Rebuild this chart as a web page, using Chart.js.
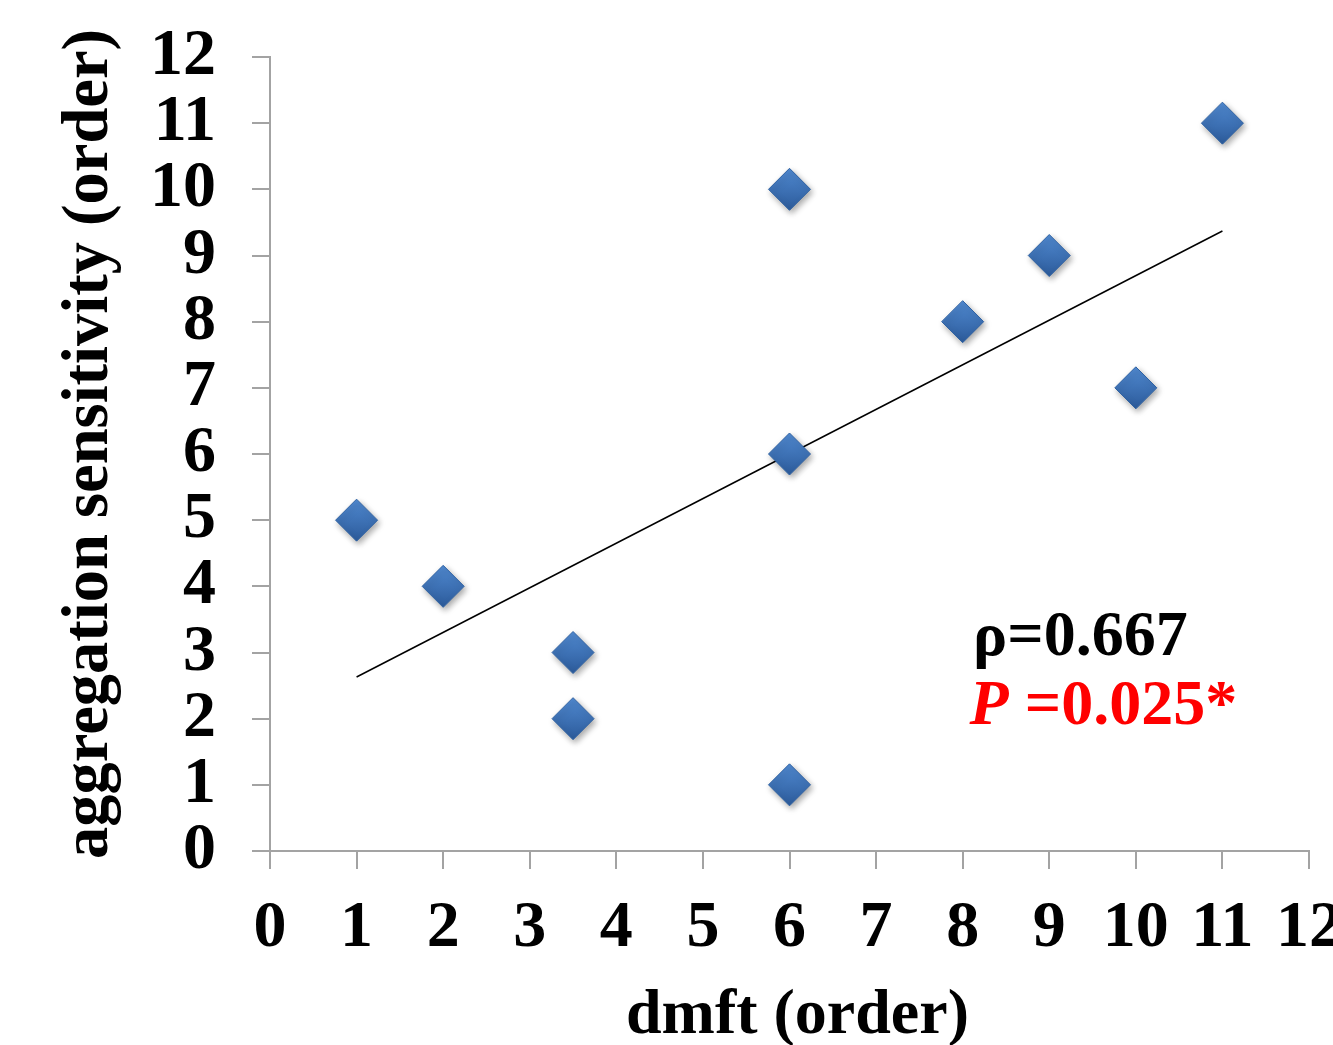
<!DOCTYPE html>
<html>
<head>
<meta charset="utf-8">
<script src="https://cdn.jsdelivr.net/npm/chart.js@4/dist/chart.umd.min.js"></script>
<style>
  html, body { margin: 0; padding: 0; background: #ffffff; }
  #wrap { width: 1333px; height: 1045px; }
</style>
</head>
<body>
<div id="wrap"><canvas id="c" width="1333" height="1045"></canvas></div>
<script>
// ---- data ----
const dmftOrder        = [1, 2, 3.5, 3.5, 6, 6, 6, 8, 9, 10, 11];
const sensitivityOrder = [5, 4, 3,   2,   10, 6, 1, 8, 9, 7,  11];
const trendX = [1, 11];
const trendY = [2.63, 9.37];
const xTicks = [0,1,2,3,4,5,6,7,8,9,10,11,12];
const yTicks = [0,1,2,3,4,5,6,7,8,9,10,11,12];
const xTitle = 'dmft (order)';
const yTitle = 'aggregation sensitivity (order)';
const rhoText = 'ρ=0.667';
const pLabel = 'P';
const pValueText = ' =0.025*';

const points = dmftOrder.map((x, i) => ({ x: x, y: sensitivityOrder[i] }));
const trend = trendX.map((x, i) => ({ x: x, y: trendY[i] }));

const FONT = '"Liberation Serif", "Times New Roman", serif';
const AXIS_GRAY = '#a3a3a3';

function markerFill(context) {
  const chart = context.chart;
  const ys = chart.scales && chart.scales.y;
  if (!ys || !context.parsed) return '#3b72b8';
  const py = ys.getPixelForValue(context.parsed.y);
  if (!isFinite(py)) return '#3b72b8';
  const g = chart.ctx.createLinearGradient(0, py - 20, 0, py + 20);
  g.addColorStop(0, '#4f88cf');
  g.addColorStop(1, '#2d5c9c');
  return g;
}

const shadowPlugin = {
  id: 'markerShadow',
  beforeDatasetDraw(chart, args) {
    if (args.index === 0) {
      const ctx = chart.ctx;
      ctx.save();
      ctx.shadowColor = 'rgba(0,0,0,0.35)';
      ctx.shadowBlur = 6;
      ctx.shadowOffsetX = 2;
      ctx.shadowOffsetY = 3;
    }
  },
  afterDatasetDraw(chart, args) {
    if (args.index === 0) chart.ctx.restore();
  }
};

// axis titles and statistics text
const textPlugin = {
  id: 'texts',
  afterDraw(chart) {
    const ctx = chart.ctx;
    const xs = chart.scales.x, ys = chart.scales.y;
    ctx.save();
    ctx.textBaseline = 'alphabetic';
    ctx.fillStyle = '#000000';

    // x axis title
    ctx.font = 'bold 64px ' + FONT;
    ctx.textAlign = 'center';
    ctx.fillText(xTitle, (xs.left + xs.right) / 2 + 8, 1033);

    // y axis title (rotated)
    ctx.save();
    ctx.translate(107, (ys.top + ys.bottom) / 2 - 10);
    ctx.rotate(-Math.PI / 2);
    ctx.font = 'bold 64.5px ' + FONT;
    ctx.textAlign = 'center';
    ctx.fillText(yTitle, 0, 0);
    ctx.restore();

    // statistics
    ctx.textAlign = 'left';
    ctx.font = 'bold 64px ' + FONT;
    const x0 = xs.getPixelForValue(8.12);
    ctx.fillText(rhoText, x0, ys.getPixelForValue(2.96));
    ctx.fillStyle = '#ff0000';
    ctx.font = 'italic bold 64px ' + FONT;
    const y1 = ys.getPixelForValue(1.92);
    const x1 = xs.getPixelForValue(8.08);
    ctx.fillText(pLabel, x1, y1);
    const w = ctx.measureText(pLabel).width;
    ctx.font = 'bold 64px ' + FONT;
    ctx.fillText(pValueText, x1 + w, y1);
    ctx.restore();
  }
};

function axisCommon(ticksArr) {
  return {
    type: 'linear',
    min: 0,
    max: 12,
    afterBuildTicks(scale) { scale.ticks = ticksArr.map(v => ({ value: v })); },
    ticks: {
      color: '#000000',
      font: { family: FONT, size: 66, weight: 'bold' },
      autoSkip: false,
      maxRotation: 0,
      minRotation: 0
    },
    grid: {
      drawOnChartArea: false,
      drawTicks: true,
      tickLength: 18,
      tickColor: AXIS_GRAY,
      tickWidth: 2,
      color: AXIS_GRAY,
      lineWidth: 2
    },
    border: { display: true, color: AXIS_GRAY, width: 2 },
    title: { display: false }
  };
}

const xScale = axisCommon(xTicks);
xScale.ticks.padding = 20;
xScale.afterFit = function (scale) {
  scale.height = 194;
  scale.paddingLeft = 0;
  scale.paddingRight = 0;
};

const yScale = axisCommon(yTicks);
yScale.ticks.padding = 36;
yScale.afterFit = function (scale) {
  scale.width = 270;
  scale.paddingTop = 0;
  scale.paddingBottom = 0;
};

new Chart(document.getElementById('c'), {
  type: 'scatter',
  data: {
    datasets: [
      {
        label: 'samples',
        data: points,
        pointStyle: 'rectRot',
        pointRadius: 21,
        pointHoverRadius: 21,
        backgroundColor: markerFill,
        borderColor: '#2f62a3',
        borderWidth: 1,
        order: 0
      },
      {
        type: 'line',
        label: 'trend',
        data: trend,
        borderColor: '#000000',
        borderWidth: 1.5,
        pointRadius: 0,
        fill: false,
        order: 1
      }
    ]
  },
  options: {
    responsive: false,
    animation: false,
    devicePixelRatio: 1,
    layout: { padding: { top: 57, right: 24, left: 0, bottom: 0 } },
    plugins: {
      legend: { display: false },
      tooltip: { enabled: false }
    },
    scales: { x: xScale, y: yScale }
  },
  plugins: [shadowPlugin, textPlugin]
});
</script>
</body>
</html>
